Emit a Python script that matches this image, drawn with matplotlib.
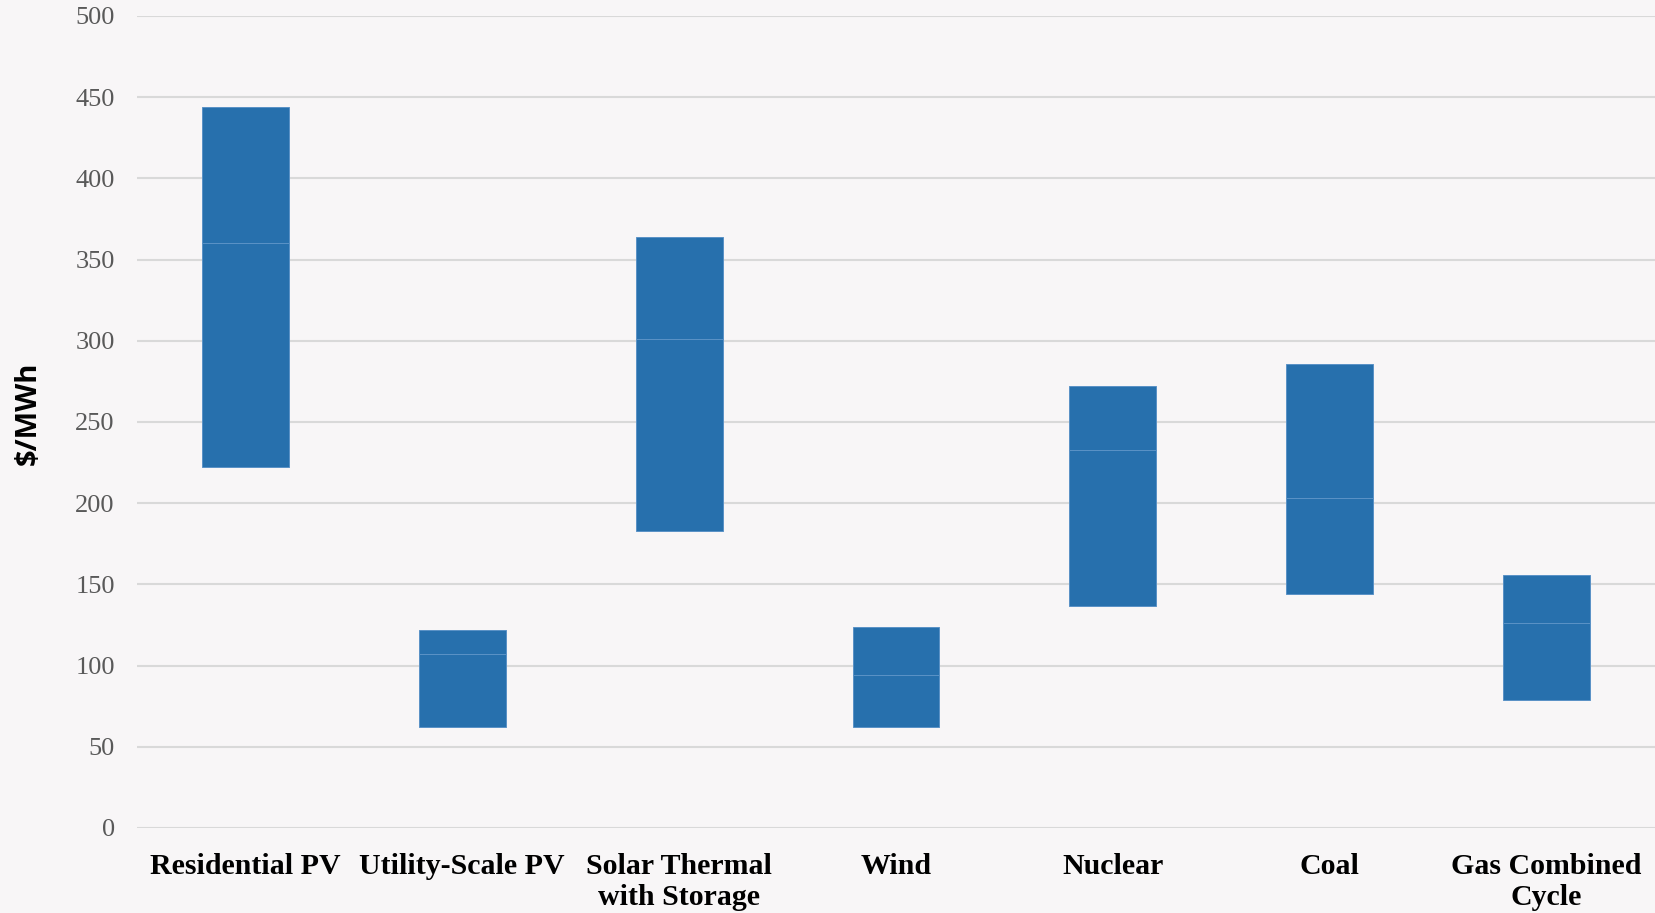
import numpy as np
import matplotlib.pyplot as plt

categories = ['Residential PV', 'Utility-Scale PV', 'Solar Thermal\nwith Storage',
              'Wind', 'Nuclear', 'Coal', 'Gas Combined\nCycle']
low = [222, 62, 183, 62, 137, 144, 79]
mid = [360, 107, 301, 94, 233, 203, 126]
high = [444, 122, 364, 124, 272, 286, 156]

bg = '#f8f6f7'
bar_color = '#2770ad'
edge_color = '#5a92c6'

fig = plt.figure(figsize=(16.55, 9.13), dpi=100, facecolor=bg)
ax = fig.add_axes([0.0828, 0.0931, 0.9172, 0.8894], facecolor=bg)

x = np.arange(len(categories))
lower_part = np.array(mid) - np.array(low)
upper_part = np.array(high) - np.array(mid)

ax.bar(x, lower_part, bottom=low, width=0.4, color=bar_color,
       edgecolor=edge_color, linewidth=0.7, zorder=3)
ax.bar(x, upper_part, bottom=mid, width=0.4, color=bar_color,
       edgecolor=edge_color, linewidth=0.7, zorder=3)

ax.set_xlim(-0.5, len(categories) - 0.5)
ax.set_ylim(0, 500)
ax.set_yticks(np.arange(0, 501, 50))
ax.yaxis.grid(True, color='#d9d9d9', linewidth=1.5, zorder=0)
ax.set_axisbelow(True)

for s in ax.spines.values():
    s.set_visible(False)

ax.tick_params(axis='both', length=0)
ax.tick_params(axis='y', pad=16)
ax.tick_params(axis='x', pad=18)
ax.set_xticks(x)
ax.set_xticklabels(categories, fontfamily='Liberation Serif', fontweight='bold',
                   fontsize=21.5, color='black', linespacing=1.2, va='top')
for lbl in ax.get_yticklabels():
    lbl.set_fontfamily('Liberation Serif')
    lbl.set_fontsize(19)
    lbl.set_color('#595959')

fig.text(0.017, 0.547, '$/MWh', rotation=90, ha='center', va='center',
         fontfamily='Open Sans', fontweight='bold', fontsize=21, color='black')

fig.savefig('out.png', dpi=100, facecolor=bg)
